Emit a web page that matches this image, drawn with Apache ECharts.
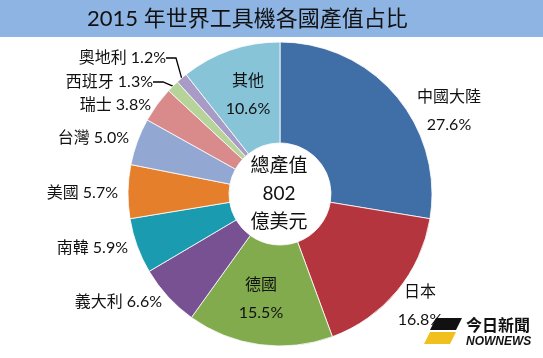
<!DOCTYPE html>
<html>
<head>
<meta charset="utf-8">
<script src="https://cdn.jsdelivr.net/npm/echarts@6/dist/echarts.min.js"></script>
<style>
html,body{margin:0;padding:0;background:#fff;}
#main{width:543px;height:358px;}
</style>
</head>
<body>
<div id="main"></div>
<script>
const categories = ['中國大陸','日本','德國','義大利','南韓','美國','台灣','瑞士','西班牙','奧地利','其他'];
const values = [27.6, 16.8, 15.5, 6.6, 5.9, 5.7, 5.0, 3.8, 1.3, 1.2, 10.6];
const colors = ['#406EA6','#B5353E','#82AB4D','#785193','#1B9BB0','#E67F2C','#92A8D2','#D98A8B','#B6D499','#A89BC6','#88C4D8'];
const titleText = '2015 年世界工具機各國產值占比';
const centerText = ['總產值', '802', '億美元'];

// label placement (not data)
const stacked = { '中國大陸': [449, 111], '日本': [420, 306], '德國': [261, 299], '其他': [248, 95] };
const leftLabels = {
  '奧地利': [166, 58], '西班牙': [153, 82], '瑞士': [151, 105], '台灣': [129, 138],
  '美國': [118, 193], '南韓': [128, 248], '義大利': [162, 302]
};
const font = 'Lato, "Noto Sans CJK TC", sans-serif';

const chart = echarts.init(document.getElementById('main'), null, { renderer: 'canvas' });
const data = categories.map((c, i) => ({
  name: c,
  value: values[i],
  itemStyle: { color: colors[i] },
  labelLine: { show: (c === '奧地利' || c === '西班牙'), lineStyle: { color: '#000', width: 1.3 } }
}));

chart.setOption({
  animation: false,
  backgroundColor: '#fff',
  graphic: [
    { type: 'rect', shape: { x: 0, y: 0, width: 543, height: 37 }, style: { fill: '#8DB4E2' }, z: 0 },
    { type: 'text', x: 87, y: 19, style: { text: titleText, font: '22px ' + font, fill: '#111', textVerticalAlign: 'middle', textAlign: 'left' }, z: 10 },
    { type: 'text', x: 279, y: 194, style: { text: centerText.join('\n'), font: '19px ' + font, fill: '#111', textAlign: 'center', textVerticalAlign: 'middle', lineHeight: 28 }, z: 100 },
    { type: 'polygon', shape: { points: [[436,318],[462,318],[456,330],[430,330]] }, style: { fill: '#111' }, z: 100 },
    { type: 'polygon', shape: { points: [[430,332],[456,332],[450,344],[424,344]] }, style: { fill: '#F2C01E' }, z: 100 },
    { type: 'text', x: 466, y: 325, style: { text: '今日新聞', font: 'bold 16px "Noto Sans CJK TC", sans-serif', fill: '#111', textVerticalAlign: 'middle' }, z: 100 },
    { type: 'text', x: 466, y: 342, style: { text: 'NOWNEWS', font: 'bold italic 12px "Liberation Sans", sans-serif', fill: '#111', textVerticalAlign: 'middle' }, z: 100 }
  ],
  series: [{
    type: 'pie',
    center: [280, 194],
    radius: [51, 152],
    startAngle: 90,
    clockwise: true,
    avoidLabelOverlap: false,
    itemStyle: { borderColor: '#fff', borderWidth: 0.8 },
    label: {
      show: true,
      position: 'outside',
      color: '#111',
      fontFamily: font,
      fontSize: 16,
      lineHeight: 28,
      formatter: p => stacked[p.name] ? p.name + '\n' + p.value.toFixed(1) + '%' : p.name + ' ' + p.value.toFixed(1) + '%'
    },
    labelLine: { show: false, length: 10, length2: 10 },
    labelLayout: function (p) {
      const name = categories[p.dataIndex];
      if (stacked[name]) {
        return { x: stacked[name][0], y: stacked[name][1], align: 'center', verticalAlign: 'middle' };
      }
      const l = leftLabels[name];
      return { x: l[0], y: l[1], align: 'right', verticalAlign: 'middle' };
    },
    data: data
  }]
});
</script>
</body>
</html>
